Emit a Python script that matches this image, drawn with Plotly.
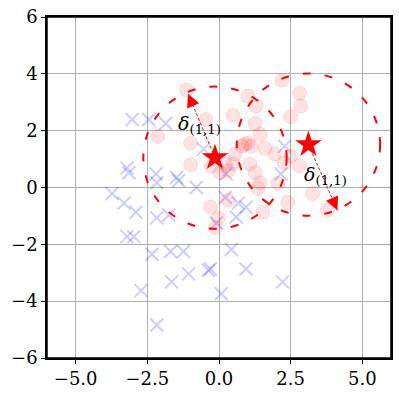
import plotly.graph_objects as go

# blue crosses (class 0)
neg_x = [-3.03, -2.45, -1.86, -3.21, -3.14, -2.20, -1.41, -3.73, -3.31, -2.90,
         -3.21, -2.97, -2.17, -1.75, -1.48, -2.17, -2.34, -1.69, -1.24, -1.06,
         -1.65, -2.72, -2.17, -0.37, -0.30, 0.94, 0.08, 2.22, 0.43, 0.25,
         0.22, 0.67, 0.94, 0.60, -0.09, 2.16, -0.79, 2.29, -0.54]
neg_y = [2.39, 2.39, 2.25, 0.69, 0.52, 0.48, 0.24, -0.21, -0.55, -0.87,
         -1.73, -1.73, -1.07, -0.97, 0.35, 0.17, -2.35, -2.25, -2.25, -3.04,
         -3.32, -3.63, -4.84, -2.91, -2.87, -2.87, -3.74, -3.32, -2.18, 0.48,
         -0.35, -0.55, -0.69, -1.04, -1.25, 0.48, 0.00, 1.45, 1.35]

# red circles (class 1)
pos_x = [-1.13, -2.14, -0.99, -0.99, 2.19, 2.81, 1.01, 2.85, 1.29, 0.49,
         2.50, 1.26, 1.43, -0.47, 0.91, 1.12, 1.01, 1.60, 0.56, 1.95,
         2.29, 1.08, 1.26, 1.43, 2.05, 2.81, 2.50, 3.26, 0.22, -0.27,
         0.04, 0.32, 0.49, 1.36, 2.40, 1.53, -0.30, -0.02, -0.13, 0.32,
         3.78, 0.80]
pos_y = [3.43, 1.80, 1.56, 0.80, 3.77, 3.32, 3.22, 2.87, 2.87, 2.53,
         2.49, 2.25, 1.87, 2.39, 1.52, 1.45, 1.56, 1.38, 1.18, 1.18,
         0.87, 0.83, 0.52, 0.17, 0.14, 0.76, 1.11, -0.21, 0.83, 0.76,
         0.52, 0.59, 0.83, -0.03, -0.52, -0.87, -0.69, -1.07, -1.42, -0.45,
         -0.80, 1.45]

# centres (stars), radius and arrow tips
star_x = [-0.14, 3.12]
star_y = [1.05, 1.51]
radius = 2.5
tip_x = [-1.08, 4.13]
tip_y = [3.30, -0.80]
label_x = [-0.68, 3.70]
label_y = [2.22, 0.42]
label = '<i>δ</i><sub>(1,1)</sub>'

RED = '#ff0000'
FONT = 'DejaVu Serif'

fig = go.Figure()
fig.add_trace(go.Scatter(
    x=neg_x, y=neg_y, mode='markers',
    marker=dict(symbol='x-thin', size=13, line=dict(color='rgba(0,0,255,0.2)', width=2)),
))
fig.add_trace(go.Scatter(
    x=pos_x, y=pos_y, mode='markers',
    marker=dict(symbol='circle', size=14, color='rgba(255,0,0,0.11)',
                line=dict(color='rgba(255,0,0,0.11)', width=1)),
))

for cx, cy, tx, ty in zip(star_x, star_y, tip_x, tip_y):
    fig.add_shape(type='circle', xref='x', yref='y',
                  x0=cx - radius, x1=cx + radius, y0=cy - radius, y1=cy + radius,
                  line=dict(color=RED, width=2, dash='8px,14px'))
    fig.add_trace(go.Scatter(x=[cx, tx], y=[cy, ty], mode='lines',
                             line=dict(color=RED, width=1, dash='3px,2px')))
    # arrow head only
    fig.add_annotation(x=tx, y=ty, ax=tx - (tx - cx) * 0.12, ay=ty - (ty - cy) * 0.12,
                       xref='x', yref='y', axref='x', ayref='y', text='',
                       showarrow=True, arrowhead=2, arrowsize=2.2, arrowwidth=1.2,
                       arrowcolor=RED, standoff=0)

fig.add_trace(go.Scatter(
    x=star_x, y=star_y, mode='markers',
    marker=dict(symbol='star', size=20, color=RED, line=dict(width=0)),
))

for lx, ly in zip(label_x, label_y):
    fig.add_annotation(x=lx, y=ly, xref='x', yref='y', text=label, showarrow=False,
                       font=dict(family=FONT, size=19, color='black'),
                       xanchor='center', yanchor='middle')

# full frame around the axes
fig.add_shape(type='rect', xref='paper', yref='paper', x0=0, x1=1, y0=0, y1=1,
              line=dict(color='black', width=1.5))

axis_common = dict(
    range=[-6, 6], showgrid=True, gridcolor='#b0b0b0', gridwidth=1,
    zeroline=False, showline=True, mirror=True, linecolor='black', linewidth=1.5,
    ticks='outside', ticklen=4, tickcolor='black', tickwidth=1.2,
    tickfont=dict(family=FONT, size=18, color='black'),
)
fig.update_xaxes(tickvals=[-5, -2.5, 0, 2.5, 5],
                 ticktext=['−5.0', '−2.5', '0.0', '2.5', '5.0'], **axis_common)
fig.update_yaxes(tickvals=[-6, -4, -2, 0, 2, 4, 6],
                 ticktext=['−6', '−4', '−2', '0', '2', '4', '6'], **axis_common)

fig.update_layout(
    width=399, height=395, showlegend=False,
    margin=dict(l=47, r=6, t=14, b=35),
    plot_bgcolor='white', paper_bgcolor='white',
    font=dict(family=FONT, size=18, color='black'),
)

# drop the default 8px body margin so the figure sits at the window corner
fig.write_html('out.html', config={'displayModeBar': False},
               post_script="document.body.style.margin='0';")
